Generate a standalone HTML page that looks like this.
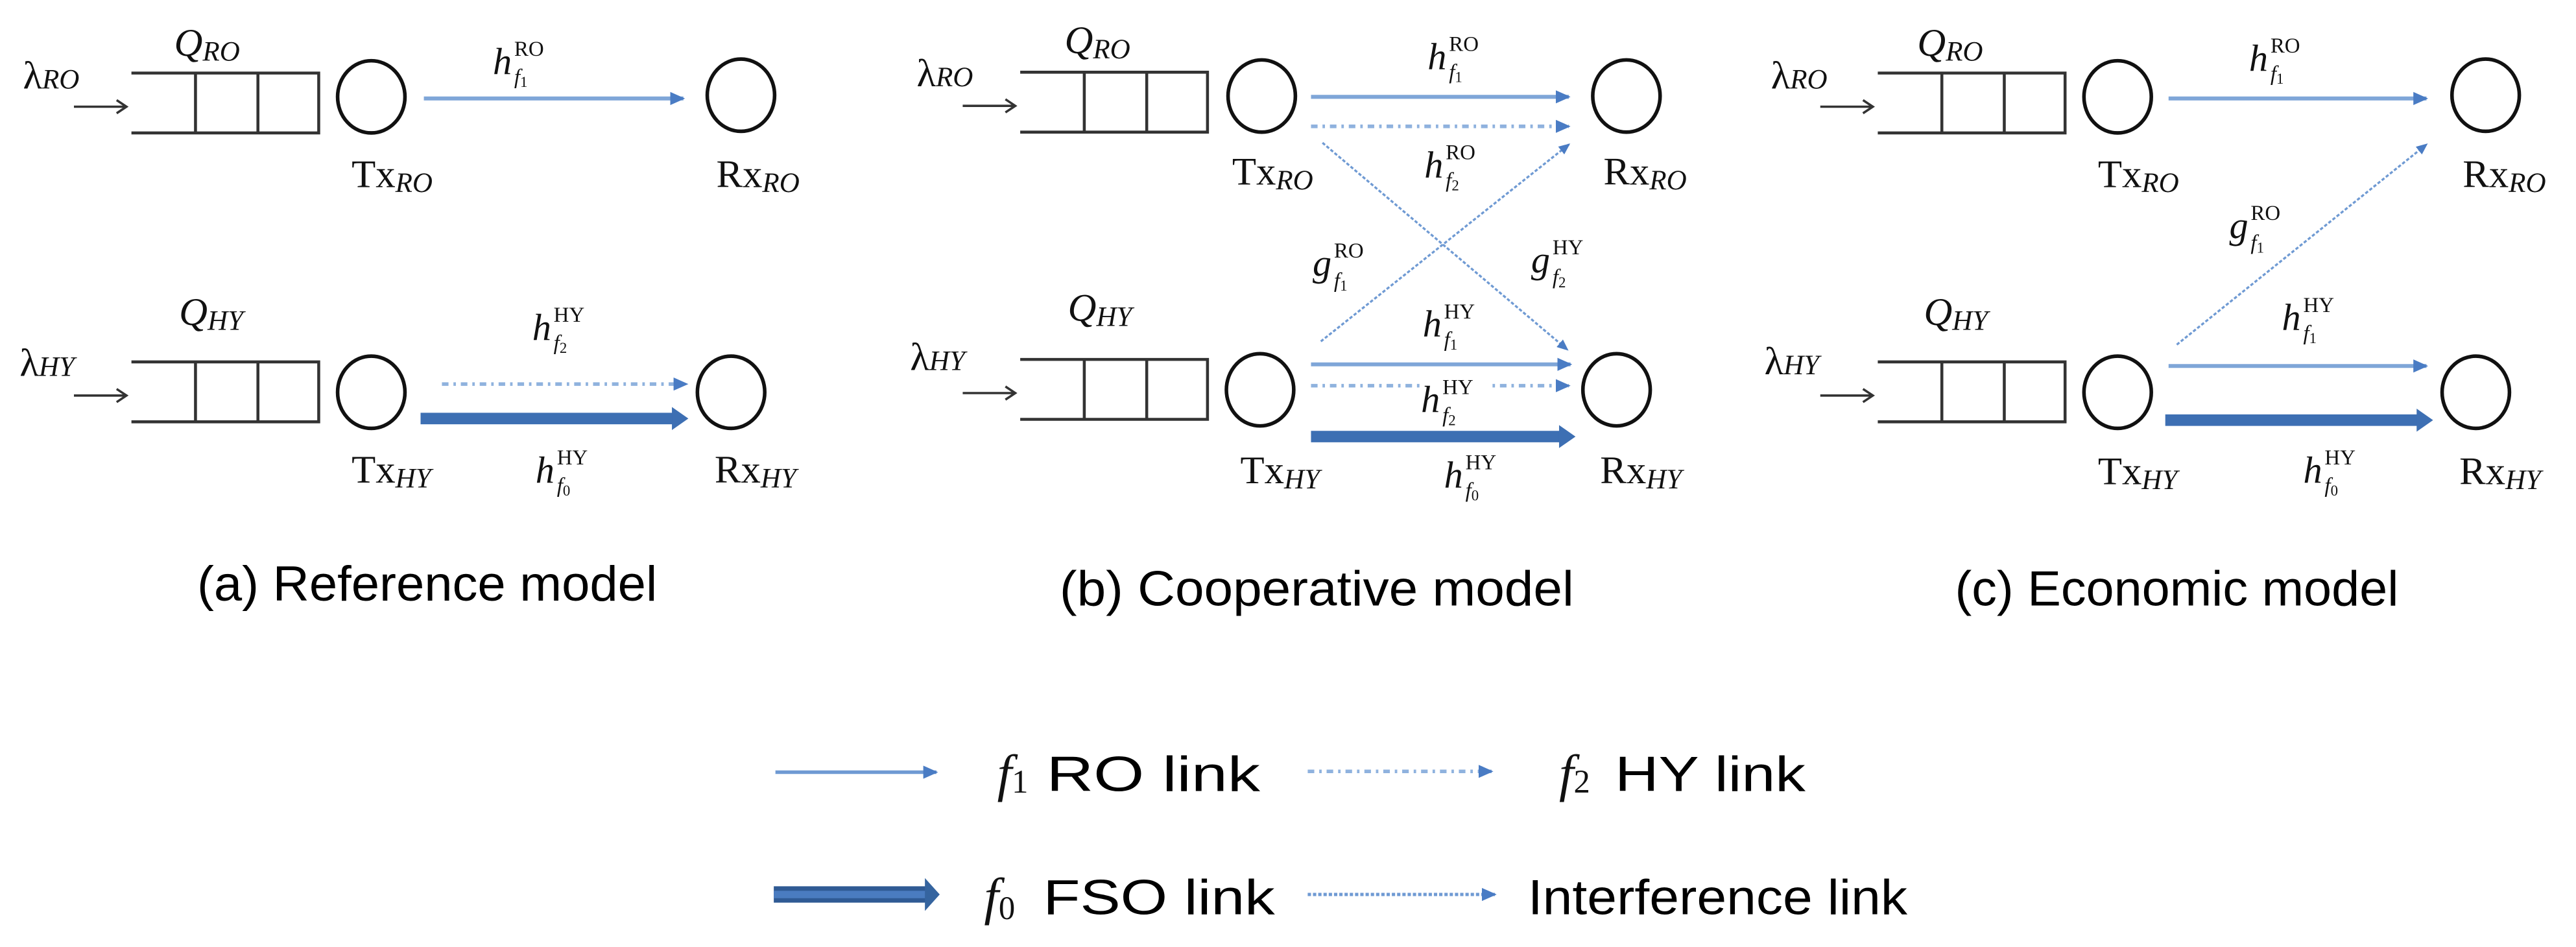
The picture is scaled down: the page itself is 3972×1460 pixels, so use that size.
<!DOCTYPE html>
<html><head><meta charset="utf-8"><style>
html,body{margin:0;padding:0;background:#fff;}
svg{display:block;}
.m{font-family:"Liberation Serif",serif;fill:#111;}
.s{font-family:"Liberation Sans",sans-serif;fill:#000;}
</style></head><body>
<svg width="3972" height="1460" viewBox="0 0 1568 577" preserveAspectRatio="none" xmlns="http://www.w3.org/2000/svg">
<defs>
<marker id="ah" markerUnits="userSpaceOnUse" markerWidth="9" markerHeight="8" refX="8" refY="4" orient="auto"><path d="M0,0 L9,4 L0,8 Z" fill="#4a7cc4"/></marker>
<marker id="ahs" markerUnits="userSpaceOnUse" markerWidth="7" markerHeight="6" refX="6" refY="3" orient="auto"><path d="M0,0 L7,3 L0,6 Z" fill="#4a7cc4"/></marker>
<g id="queue">
<path d="M0,44.5 H114 V81 H0 M39,44.5 V81 M77,44.5 V81" fill="none" stroke="#333" stroke-width="1.8"/>
<path d="M-35,65 H-4 M-9,61 L-3,65 L-9,69" fill="none" stroke="#333" stroke-width="1.4"/>
</g>
</defs>

<!-- generic panel content function replicated -->
<!-- ===== Panel (a) ===== -->
<g transform="translate(80,0)">
<use href="#queue"/>
<use href="#queue" transform="translate(0,176)"/>
<ellipse cx="146" cy="59" rx="20.5" ry="22" fill="none" stroke="#111" stroke-width="2.2"/>
<ellipse cx="371" cy="58" rx="20.5" ry="22" fill="none" stroke="#111" stroke-width="2.2"/>
<ellipse cx="146" cy="239" rx="20.5" ry="22" fill="none" stroke="#111" stroke-width="2.2"/>
<ellipse cx="365" cy="239" rx="20.5" ry="22" fill="none" stroke="#111" stroke-width="2.2"/>
<text class="m" x="-66" y="54" font-size="24">λ<tspan font-size="17" font-style="italic">RO</tspan></text>
<text class="m" x="26" y="34" font-size="24" font-style="italic">Q<tspan font-size="17" dy="3">RO</tspan></text>
<text class="m" x="134" y="114" font-size="24">Tx<tspan font-size="17" font-style="italic" dy="3">RO</tspan></text>
<text class="m" x="356" y="114" font-size="24">Rx<tspan font-size="17" font-style="italic" dy="3">RO</tspan></text>
<text class="m" x="-68" y="229" font-size="24">λ<tspan font-size="17" font-style="italic">HY</tspan></text>
<text class="m" x="29" y="198" font-size="24" font-style="italic">Q<tspan font-size="17" dy="3">HY</tspan></text>
<text class="m" x="134" y="294" font-size="24">Tx<tspan font-size="17" font-style="italic" dy="3">HY</tspan></text>
<text class="m" x="355" y="294" font-size="24">Rx<tspan font-size="17" font-style="italic" dy="3">HY</tspan></text>
</g>
<!-- panel a links -->
<line x1="258" y1="60" x2="416" y2="60" stroke="#7fa6d8" stroke-width="2.4" marker-end="url(#ah)"/>
<line x1="269" y1="234" x2="418" y2="234" stroke="#8fb2de" stroke-width="2.2" stroke-dasharray="4 3 1.5 3" marker-end="url(#ah)"/>
<line x1="256" y1="255" x2="410" y2="255" stroke="#3d6fb3" stroke-width="7"/>
<path d="M409,248 L419,255 L409,262 Z" fill="#3d6fb3"/>
<g class="m">
<text x="300" y="45" font-size="23" font-style="italic">h</text><text x="313" y="34" font-size="13">RO</text><text x="313" y="51" font-size="13" font-style="italic">f<tspan font-size="9" font-style="normal" dy="2">1</tspan></text>
<text x="324" y="207" font-size="23" font-style="italic">h</text><text x="337" y="196" font-size="13">HY</text><text x="337" y="213" font-size="13" font-style="italic">f<tspan font-size="9" font-style="normal" dy="2">2</tspan></text>
<text x="326" y="294" font-size="23" font-style="italic">h</text><text x="339" y="283" font-size="13">HY</text><text x="339" y="300" font-size="13" font-style="italic">f<tspan font-size="9" font-style="normal" dy="2">0</tspan></text>
</g>

<!-- ===== Panel (b) ===== -->
<g transform="translate(621,-0.5)">
<use href="#queue"/>
<use href="#queue" transform="translate(0,175)"/>
<ellipse cx="147" cy="59" rx="20.5" ry="22" fill="none" stroke="#111" stroke-width="2.2"/>
<ellipse cx="369" cy="59" rx="20.5" ry="22" fill="none" stroke="#111" stroke-width="2.2"/>
<ellipse cx="146" cy="238" rx="20.5" ry="22" fill="none" stroke="#111" stroke-width="2.2"/>
<ellipse cx="363" cy="238" rx="20.5" ry="22" fill="none" stroke="#111" stroke-width="2.2"/>
<text class="m" x="-63" y="53" font-size="24">λ<tspan font-size="17" font-style="italic">RO</tspan></text>
<text class="m" x="27" y="33" font-size="24" font-style="italic">Q<tspan font-size="17" dy="3">RO</tspan></text>
<text class="m" x="129" y="113" font-size="24">Tx<tspan font-size="17" font-style="italic" dy="3">RO</tspan></text>
<text class="m" x="355" y="113" font-size="24">Rx<tspan font-size="17" font-style="italic" dy="3">RO</tspan></text>
<text class="m" x="-67" y="226" font-size="24">λ<tspan font-size="17" font-style="italic">HY</tspan></text>
<text class="m" x="29" y="196" font-size="24" font-style="italic">Q<tspan font-size="17" dy="3">HY</tspan></text>
<text class="m" x="134" y="295" font-size="24">Tx<tspan font-size="17" font-style="italic" dy="3">HY</tspan></text>
<text class="m" x="353" y="295" font-size="24">Rx<tspan font-size="17" font-style="italic" dy="3">HY</tspan></text>
</g>
<line x1="798" y1="59" x2="955" y2="59" stroke="#7fa6d8" stroke-width="2.4" marker-end="url(#ah)"/>
<line x1="798" y1="77" x2="955" y2="77" stroke="#8fb2de" stroke-width="2.2" stroke-dasharray="4 3 1.5 3" marker-end="url(#ah)"/>
<line x1="805" y1="87" x2="954" y2="213" stroke="#6f9ad3" stroke-width="1.3" stroke-dasharray="2 1.2" marker-end="url(#ahs)"/>
<line x1="804" y1="208" x2="955" y2="88" stroke="#6f9ad3" stroke-width="1.3" stroke-dasharray="2 1.2" marker-end="url(#ahs)"/>
<line x1="798" y1="222" x2="956" y2="222" stroke="#7fa6d8" stroke-width="2.4" marker-end="url(#ah)"/>
<line x1="798" y1="235" x2="955" y2="235" stroke="#8fb2de" stroke-width="2.2" stroke-dasharray="4 3 1.5 3" marker-end="url(#ah)"/>
<rect x="866" y="229" width="40" height="12" fill="#fff"/>
<line x1="798" y1="266" x2="950" y2="266" stroke="#3d6fb3" stroke-width="7"/>
<path d="M949,259 L959,266 L949,273 Z" fill="#3d6fb3"/>
<g class="m">
<text x="869" y="42" font-size="23" font-style="italic">h</text><text x="882" y="31" font-size="13">RO</text><text x="882" y="48" font-size="13" font-style="italic">f<tspan font-size="9" font-style="normal" dy="2">1</tspan></text>
<text x="867" y="108" font-size="23" font-style="italic">h</text><text x="880" y="97" font-size="13">RO</text><text x="880" y="114" font-size="13" font-style="italic">f<tspan font-size="9" font-style="normal" dy="2">2</tspan></text>
<text x="799" y="168" font-size="23" font-style="italic">g</text><text x="812" y="157" font-size="13">RO</text><text x="812" y="175" font-size="13" font-style="italic">f<tspan font-size="9" font-style="normal" dy="2">1</tspan></text>
<text x="932" y="166" font-size="23" font-style="italic">g</text><text x="945" y="155" font-size="13">HY</text><text x="945" y="173" font-size="13" font-style="italic">f<tspan font-size="9" font-style="normal" dy="2">2</tspan></text>
<text x="866" y="205" font-size="23" font-style="italic">h</text><text x="879" y="194" font-size="13">HY</text><text x="879" y="211" font-size="13" font-style="italic">f<tspan font-size="9" font-style="normal" dy="2">1</tspan></text>
<text x="865" y="251" font-size="23" font-style="italic">h</text><text x="878" y="240" font-size="13">HY</text><text x="878" y="257" font-size="13" font-style="italic">f<tspan font-size="9" font-style="normal" dy="2">2</tspan></text>
<text x="879" y="297" font-size="23" font-style="italic">h</text><text x="892" y="286" font-size="13">HY</text><text x="892" y="303" font-size="13" font-style="italic">f<tspan font-size="9" font-style="normal" dy="2">0</tspan></text>
</g>

<!-- ===== Panel (c) ===== -->
<g transform="translate(1143,0)">
<use href="#queue"/>
<use href="#queue" transform="translate(0,176)"/>
<ellipse cx="146" cy="59" rx="20.5" ry="22" fill="none" stroke="#111" stroke-width="2.2"/>
<ellipse cx="370" cy="58" rx="20.5" ry="22" fill="none" stroke="#111" stroke-width="2.2"/>
<ellipse cx="146" cy="239" rx="20.5" ry="22" fill="none" stroke="#111" stroke-width="2.2"/>
<ellipse cx="364" cy="239" rx="20.5" ry="22" fill="none" stroke="#111" stroke-width="2.2"/>
<text class="m" x="-65" y="54" font-size="24">λ<tspan font-size="17" font-style="italic">RO</tspan></text>
<text class="m" x="24" y="34" font-size="24" font-style="italic">Q<tspan font-size="17" dy="3">RO</tspan></text>
<text class="m" x="134" y="114" font-size="24">Tx<tspan font-size="17" font-style="italic" dy="3">RO</tspan></text>
<text class="m" x="356" y="114" font-size="24">Rx<tspan font-size="17" font-style="italic" dy="3">RO</tspan></text>
<text class="m" x="-69" y="228" font-size="24">λ<tspan font-size="17" font-style="italic">HY</tspan></text>
<text class="m" x="28" y="198" font-size="24" font-style="italic">Q<tspan font-size="17" dy="3">HY</tspan></text>
<text class="m" x="134" y="295" font-size="24">Tx<tspan font-size="17" font-style="italic" dy="3">HY</tspan></text>
<text class="m" x="354" y="295" font-size="24">Rx<tspan font-size="17" font-style="italic" dy="3">HY</tspan></text>
</g>
<line x1="1320" y1="60" x2="1477" y2="60" stroke="#7fa6d8" stroke-width="2.4" marker-end="url(#ah)"/>
<line x1="1325" y1="210" x2="1477" y2="88" stroke="#6f9ad3" stroke-width="1.3" stroke-dasharray="2 1.2" marker-end="url(#ahs)"/>
<line x1="1320" y1="223" x2="1477" y2="223" stroke="#7fa6d8" stroke-width="2.4" marker-end="url(#ah)"/>
<line x1="1318" y1="256" x2="1472" y2="256" stroke="#3d6fb3" stroke-width="7"/>
<path d="M1471,249 L1481,256 L1471,263 Z" fill="#3d6fb3"/>
<g class="m">
<text x="1369" y="43" font-size="23" font-style="italic">h</text><text x="1382" y="32" font-size="13">RO</text><text x="1382" y="49" font-size="13" font-style="italic">f<tspan font-size="9" font-style="normal" dy="2">1</tspan></text>
<text x="1357" y="145" font-size="23" font-style="italic">g</text><text x="1370" y="134" font-size="13">RO</text><text x="1370" y="152" font-size="13" font-style="italic">f<tspan font-size="9" font-style="normal" dy="2">1</tspan></text>
<text x="1389" y="201" font-size="23" font-style="italic">h</text><text x="1402" y="190" font-size="13">HY</text><text x="1402" y="207" font-size="13" font-style="italic">f<tspan font-size="9" font-style="normal" dy="2">1</tspan></text>
<text x="1402" y="294" font-size="23" font-style="italic">h</text><text x="1415" y="283" font-size="13">HY</text><text x="1415" y="300" font-size="13" font-style="italic">f<tspan font-size="9" font-style="normal" dy="2">0</tspan></text>
</g>

<!-- captions -->
<text class="s" x="120" y="366" font-size="30" textLength="280" lengthAdjust="spacingAndGlyphs">(a) Reference model</text>
<text class="s" x="645" y="369" font-size="30" textLength="313" lengthAdjust="spacingAndGlyphs">(b) Cooperative  model</text>
<text class="s" x="1190" y="369" font-size="30" textLength="270" lengthAdjust="spacingAndGlyphs">(c) Economic model</text>

<!-- legend -->
<line x1="472" y1="470.5" x2="570" y2="470.5" stroke="#6f9ad3" stroke-width="2.2" marker-end="url(#ah)"/>
<text class="m" x="607" y="482" font-size="32" font-style="italic">f<tspan font-size="20" font-style="normal" dy="1">1</tspan></text>
<text class="s" x="637" y="482" font-size="30" textLength="130" lengthAdjust="spacingAndGlyphs">RO link</text>
<line x1="796" y1="470" x2="908" y2="470" stroke="#8fb2de" stroke-width="2.2" stroke-dasharray="4 3 1.5 3" marker-end="url(#ah)"/>
<text class="m" x="949" y="482" font-size="32" font-style="italic">f<tspan font-size="20" font-style="normal" dy="1">2</tspan></text>
<text class="s" x="983" y="482" font-size="30" textLength="116" lengthAdjust="spacingAndGlyphs">HY link</text>
<line x1="471" y1="545" x2="564" y2="545" stroke="#2f5a94" stroke-width="10"/>
<line x1="471" y1="545" x2="564" y2="545" stroke="#4a7cc0" stroke-width="4.5"/>
<path d="M563,535 L572,545 L563,555 Z" fill="#35649f"/>
<text class="m" x="599" y="557" font-size="32" font-style="italic">f<tspan font-size="20" font-style="normal" dy="3">0</tspan></text>
<text class="s" x="635" y="557" font-size="30" textLength="141" lengthAdjust="spacingAndGlyphs">FSO link</text>
<line x1="796" y1="545" x2="910" y2="545" stroke="#6f9ad3" stroke-width="2" stroke-dasharray="2 1.2" marker-end="url(#ah)"/>
<text class="s" x="930" y="557" font-size="30" textLength="231" lengthAdjust="spacingAndGlyphs">Interference link</text>
</svg>
</body></html>
